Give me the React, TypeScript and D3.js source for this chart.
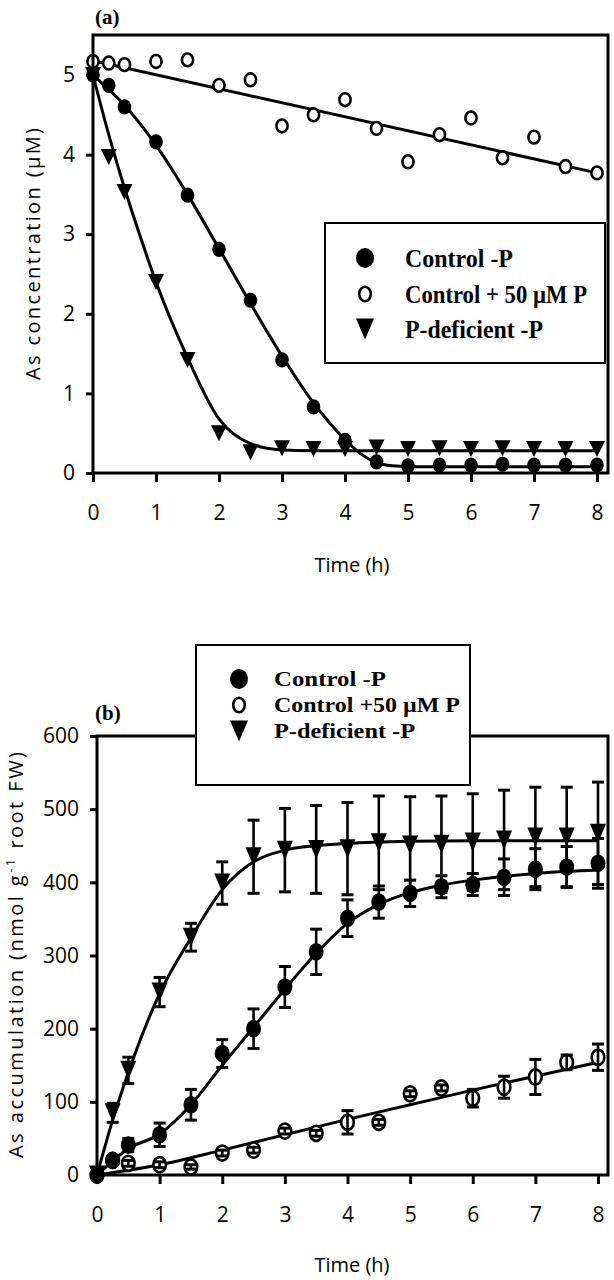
import React, { useEffect, useRef } from 'react';
import * as d3 from 'd3';

const W = 614;
const H = 1280;

// ---------- Panel (a): As concentration (µM) ----------
const timesA = [0, 0.25, 0.5, 1, 1.5, 2, 2.5, 3, 3.5, 4, 4.5, 5, 5.5, 6, 6.5, 7, 7.5, 8];
const concControlMinusP = [5.0, 4.87, 4.6, 4.16, 3.49, 2.81, 2.17, 1.42, 0.83, 0.41, 0.14, 0.09, 0.1, 0.1, 0.11, 0.1, 0.1, 0.1];
const concControlPlusP = [5.17, 5.15, 5.13, 5.17, 5.19, 4.87, 4.94, 4.36, 4.5, 4.69, 4.33, 3.91, 4.25, 4.46, 3.96, 4.22, 3.85, 3.77];
const concPDeficient = [5.0, 3.97, 3.53, 2.4, 1.42, 0.5, 0.26, 0.31, 0.3, 0.3, 0.32, 0.3, 0.31, 0.3, 0.31, 0.3, 0.3, 0.3];

// fitted curves
const fitA_ControlMinusP_t = [0, 0.5, 1, 1.5, 2, 2.5, 3, 3.5, 4, 4.25, 4.5, 4.75, 5, 6, 8];
const fitA_ControlMinusP_v = [5.0, 4.62, 4.12, 3.5, 2.82, 2.13, 1.47, 0.88, 0.42, 0.24, 0.13, 0.09, 0.08, 0.08, 0.08];
const fitA_ControlPlusP_t = [0, 8];
const fitA_ControlPlusP_v = [5.18, 3.77];
const fitA_PDeficient_t = [0, 0.25, 0.5, 0.75, 1, 1.5, 2, 2.5, 3, 3.5, 4, 8];
const fitA_PDeficient_v = [5.0, 4.25, 3.58, 2.97, 2.4, 1.45, 0.68, 0.37, 0.29, 0.28, 0.28, 0.28];

const xTicks = [0, 1, 2, 3, 4, 5, 6, 7, 8];
const yTicksA = [0, 1, 2, 3, 4, 5];

// ---------- Panel (b): As accumulation ----------
const timesB = [0, 0.25, 0.5, 1, 1.5, 2, 2.5, 3, 3.5, 4, 4.5, 5, 5.5, 6, 6.5, 7, 7.5, 8];
const accControlMinusP = [0, 20, 41, 55, 96, 166, 200, 257, 305, 351, 373, 385, 394, 397, 407, 418, 421, 426];
const accControlMinusPErr = [0, 5, 9, 16, 21, 19, 27, 28, 31, 25, 22, 18, 15, 15, 25, 28, 28, 34];
const accControlPlusP = [0, 20, 16, 14, 11, 30, 34, 60, 57, 72, 72, 111, 119, 105, 120, 134, 154, 161];
const accControlPlusPErr = [0, 4, 4, 4, 3, 4, 4, 4, 4, 16, 4, 4, 4, 12, 15, 24, 10, 18];
const accPDeficient = [0, 85, 143, 250, 325, 399, 435, 444, 445, 446, 454, 451, 452, 455, 458, 462, 462, 467];
const accPDeficientErr = [0, 13, 18, 20, 19, 29, 50, 57, 60, 63, 64, 66, 66, 66, 68, 68, 68, 70];

const fitB_ControlMinusP_t = [0, 0.5, 1, 1.5, 2, 2.5, 3, 3.5, 4, 4.5, 5, 5.5, 6, 6.5, 7, 7.5, 8];
const fitB_ControlMinusP_v = [0, 36, 56, 96, 150, 202, 254, 303, 344, 370, 386, 396, 403, 408, 412, 415, 417];
const fitB_ControlPlusP_t = [0, 1, 2, 3, 4, 5, 6, 7, 8];
const fitB_ControlPlusP_v = [0, 14, 34, 55, 76, 96, 116, 135, 154];
const fitB_PDeficient_t = [0, 0.25, 0.5, 1, 1.5, 2, 2.5, 3, 3.5, 4, 5, 6, 8];
const fitB_PDeficient_v = [0, 75, 140, 248, 324, 390, 428, 444, 450, 453, 456, 457, 457];

const yTicksB = [0, 100, 200, 300, 400, 500, 600];

const legendLabelsA = ['Control  -P', 'Control + 50 \u00B5M P', 'P-deficient  -P'];
const legendLabelsB = ['Control  -P', 'Control +50 \u00B5M P', 'P-deficient  -P'];

const SANS = "'Open Sans', 'DejaVu Sans', sans-serif";
const SERIF = "'Liberation Serif', 'Times New Roman', serif";

type Sel = d3.Selection<SVGGElement, unknown, null, undefined>;

function drawMarker(g: Sel, kind: string, cx: number, cy: number, rx: number, ry: number, tw: number, th: number) {
  if (kind === 'filled') {
    g.append('ellipse').attr('cx', cx).attr('cy', cy).attr('rx', rx).attr('ry', ry).attr('fill', '#000');
  } else if (kind === 'open') {
    g.append('ellipse').attr('cx', cx).attr('cy', cy).attr('rx', rx - 1.2).attr('ry', ry - 1.2)
      .attr('fill', '#fff').attr('stroke', '#000').attr('stroke-width', 2.6);
  } else {
    const p = d3.path();
    p.moveTo(cx - tw / 2, cy - th / 2);
    p.lineTo(cx + tw / 2, cy - th / 2);
    p.lineTo(cx, cy + th / 2);
    p.closePath();
    g.append('path').attr('d', p.toString()).attr('fill', '#000');
  }
}

export default function App() {
  const ref = useRef<SVGSVGElement>(null);

  useEffect(() => {
    const svg = d3.select(ref.current as SVGSVGElement);
    svg.selectAll('*').remove();
    const root = svg.append('g') as unknown as Sel;

    const line = (x: d3.ScaleLinear<number, number>, y: d3.ScaleLinear<number, number>) =>
      d3.line<[number, number]>().x(d => x(d[0])).y(d => y(d[1])).curve(d3.curveMonotoneX);

    const styleAxis = (s: Sel) => {
      s.select('.domain').remove();
      s.selectAll('.tick line').attr('stroke', '#000').attr('stroke-width', 3);
      s.selectAll('.tick text').attr('fill', '#000').attr('font-family', SANS).attr('font-size', 21);
    };

    const drawPanel = (opts: {
      x: d3.ScaleLinear<number, number>;
      y: d3.ScaleLinear<number, number>;
      left: number; right: number; top: number; bottom: number;
      yTicks: number[];
      fits: [number[], number[]][];
      series: { kind: string; t: number[]; v: number[]; e?: number[] }[];
      rx: number; ry: number; tw: number; th: number;
    }) => {
      const { x, y, left, right, top, bottom } = opts;
      const g = root.append('g') as unknown as Sel;
      opts.fits.forEach(([t, v]) => {
        g.append('path')
          .attr('d', line(x, y)(t.map((ti, i) => [ti, v[i]] as [number, number])) as string)
          .attr('fill', 'none').attr('stroke', '#000').attr('stroke-width', 3);
      });
      opts.series.forEach(s => {
        s.t.forEach((ti, i) => drawMarker(g, s.kind, x(ti), y(s.v[i]), opts.rx, opts.ry, opts.tw, opts.th));
      });
      opts.series.forEach(s => {
        if (!s.e) return;
        s.t.forEach((ti, i) => {
          const e = s.e![i];
          if (!e) return;
          const cx = x(ti);
          const y1 = y(s.v[i] + e);
          const y0 = y(s.v[i] - e);
          g.append('line').attr('x1', cx).attr('x2', cx).attr('y1', y1).attr('y2', y0)
            .attr('stroke', '#000').attr('stroke-width', 2.6);
          [y0, y1].forEach(yy => g.append('line').attr('x1', cx - 6).attr('x2', cx + 6).attr('y1', yy).attr('y2', yy)
            .attr('stroke', '#000').attr('stroke-width', 3));
        });
      });
      g.append('rect').attr('x', left).attr('y', top).attr('width', right - left).attr('height', bottom - top)
        .attr('fill', 'none').attr('stroke', '#000').attr('stroke-width', 3);
      const xa = g.append('g').attr('transform', `translate(0,${bottom})`) as unknown as Sel;
      xa.call(d3.axisBottom(x).tickValues(xTicks).tickSize(9).tickSizeOuter(0).tickPadding(23).tickFormat(d3.format('d')) as any);
      styleAxis(xa);
      const ya = g.append('g').attr('transform', `translate(${left},0)`) as unknown as Sel;
      ya.call(d3.axisLeft(y).tickValues(opts.yTicks).tickSize(7).tickSizeOuter(0).tickPadding(11).tickFormat(d3.format('d')) as any);
      styleAxis(ya);
      return g;
    };

    // ---------- Panel (a) ----------
    const xA = d3.scaleLinear().domain([0, 8]).range([93, 597]);
    const yA = d3.scaleLinear().domain([0, 5]).range([473, 75]);
    drawPanel({
      x: xA, y: yA, left: 93, right: 608, top: 35, bottom: 473, yTicks: yTicksA,
      fits: [
        [fitA_ControlPlusP_t, fitA_ControlPlusP_v],
        [fitA_ControlMinusP_t, fitA_ControlMinusP_v],
        [fitA_PDeficient_t, fitA_PDeficient_v],
      ],
      series: [
        { kind: 'open', t: timesA, v: concControlPlusP },
        { kind: 'tri', t: timesA, v: concPDeficient },
        { kind: 'filled', t: timesA, v: concControlMinusP },
      ],
      rx: 6.8, ry: 7.6, tw: 16, th: 16,
    });

    // ---------- Panel (b) ----------
    const xB = d3.scaleLinear().domain([0, 8]).range([97, 598]);
    const yB = d3.scaleLinear().domain([0, 600]).range([1175, 736]);
    drawPanel({
      x: xB, y: yB, left: 97, right: 608, top: 736, bottom: 1175, yTicks: yTicksB,
      fits: [
        [fitB_ControlPlusP_t, fitB_ControlPlusP_v],
        [fitB_ControlMinusP_t, fitB_ControlMinusP_v],
        [fitB_PDeficient_t, fitB_PDeficient_v],
      ],
      series: [
        { kind: 'open', t: timesB, v: accControlPlusP, e: accControlPlusPErr },
        { kind: 'filled', t: timesB, v: accControlMinusP, e: accControlMinusPErr },
        { kind: 'tri', t: timesB, v: accPDeficient, e: accPDeficientErr },
      ],
      rx: 7.5, ry: 8.8, tw: 16, th: 19,
    });

    // ---------- Legends ----------
    const drawLegend = (bx: number, by: number, bw: number, bh: number, mx: number, tx: number,
      rows: number[], labels: string[], widths: number[], fs: number) => {
      const g = root.append('g') as unknown as Sel;
      g.append('rect').attr('x', bx).attr('y', by).attr('width', bw).attr('height', bh)
        .attr('fill', '#fff').attr('stroke', '#000').attr('stroke-width', 2);
      const kinds = ['filled', 'open', 'tri'];
      kinds.forEach((k, i) => {
        if (k === 'filled') drawMarker(g, k, mx, rows[i], 9, 10, 0, 0);
        else if (k === 'open') drawMarker(g, k, mx, rows[i], 7, 8.5, 0, 0);
        else drawMarker(g, k, mx, rows[i], 0, 0, 18, 21);
        g.append('text').attr('x', tx).attr('y', rows[i] + fs * 0.34)
          .attr('font-family', SERIF).attr('font-weight', 'bold').attr('font-size', fs)
          .attr('textLength', widths[i]).attr('lengthAdjust', 'spacingAndGlyphs')
          .text(labels[i]);
      });
    };
    drawLegend(325, 223, 280, 140, 365, 405, [258, 294, 329], legendLabelsA, [108, 182, 138], 26);
    drawLegend(196, 645, 274, 140, 239, 274, [679, 705, 731], legendLabelsB, [112, 186, 141], 22);

    // ---------- Panel labels & axis titles ----------
    root.append('text').attr('x', 95).attr('y', 24).attr('font-family', SERIF).attr('font-weight', 'bold')
      .attr('font-size', 21).text('(a)');
    root.append('text').attr('x', 95).attr('y', 720).attr('font-family', SERIF).attr('font-weight', 'bold')
      .attr('font-size', 21).text('(b)');

    root.append('text').attr('x', 352).attr('y', 572).attr('text-anchor', 'middle')
      .attr('font-family', SANS).attr('font-size', 20).text('Time (h)');
    root.append('text').attr('x', 352).attr('y', 1272).attr('text-anchor', 'middle')
      .attr('font-family', SANS).attr('font-size', 20).text('Time (h)');

    root.append('text').attr('transform', 'translate(40,254) rotate(-90)').attr('text-anchor', 'middle')
      .attr('font-family', SANS).attr('font-size', 20).attr('textLength', 252)
      .text('As concentration (\u00B5M)');

    const yl = root.append('text').attr('transform', 'translate(23,955) rotate(-90)').attr('text-anchor', 'middle')
      .attr('font-family', SANS).attr('font-size', 20).attr('textLength', 406);
    yl.append('tspan').text('As accumulation (nmol g');
    yl.append('tspan').attr('dy', -8).attr('font-size', 13).text('-1');
    yl.append('tspan').attr('dy', 8).text(' root FW)');
  }, []);

  return (
    <svg
      ref={ref}
      width={W}
      height={H}
      style={{ position: 'absolute', left: 0, top: 0, background: '#fff', display: 'block' }}
    />
  );
}
